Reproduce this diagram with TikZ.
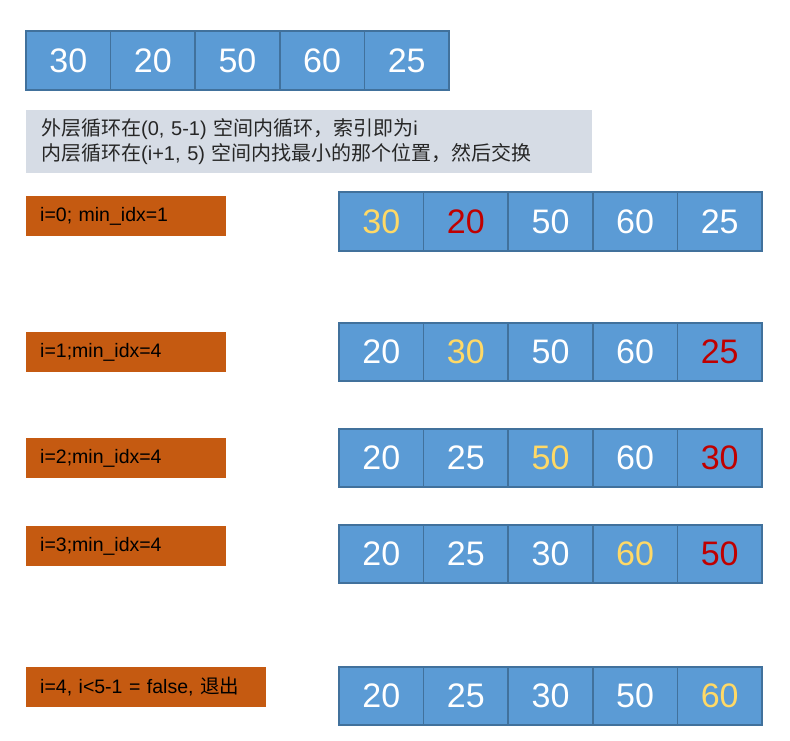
\documentclass[tikz,border=0pt]{standalone}
\usepackage{fontspec}
\setmainfont{Liberation Sans}
\newfontfamily\cjk{Noto Sans CJK SC}
\definecolor{cellfill}{HTML}{5B9BD5}
\definecolor{cellborder}{HTML}{41719C}
\definecolor{hiyel}{HTML}{FFD966}
\definecolor{hired}{HTML}{C00000}
\definecolor{labfill}{HTML}{C55A11}
\definecolor{notefill}{HTML}{D6DCE5}
\tikzset{
  cell/.style={draw=cellborder, fill=cellfill, line width=1.6pt, minimum width=84.6pt, minimum height=58.5pt, inner sep=0pt, text=white, font=\fontsize{34}{34}\selectfont},
  lab/.style={fill=labfill, minimum height=40pt, inner xsep=14pt, inner ysep=0pt, align=left, font=\fontsize{19.5}{22}\selectfont, text=black},
  note/.style={fill=notefill, minimum width=566pt, minimum height=63pt, inner xsep=15pt, align=left, text width=536pt, font=\fontsize{20}{25}\selectfont, text=black!85}
}
\begin{document}
\begin{tikzpicture}[x=1pt,y=-1pt]
\useasboundingbox (0,0) rectangle (790,740);
% top array
\foreach \v [count=\i] in {30,20,50,60,25}
  \node[cell] (t\i) at (26+84.6*\i-42.3, 60.5) {\raisebox{-1.2pt}{\v}};
% note
\node[note, anchor=north west] (note) at (26,110) {{\cjk 外层循环在}(0, 5-1) {\cjk 空间内循环，索引即为}i\\{\cjk 内层循环在}(i+1, 5) {\cjk 空间内找最小的那个位置，然后交换}};
% rows
\foreach \r/\y/\vals in {1/221.5/{30/hiyel,20/hired,50/white,60/white,25/white},
                        2/352/{20/white,30/hiyel,50/white,60/white,25/hired},
                        3/458/{20/white,25/white,50/hiyel,60/white,30/hired},
                        4/554/{20/white,25/white,30/white,60/hiyel,50/hired},
                        5/696/{20/white,25/white,30/white,50/white,60/hiyel}}{
  \foreach \v/\c [count=\i] in \vals
    \node[cell, text=\c] (r\r c\i) at (339+84.6*\i-42.3, \y) {\raisebox{-1.2pt}{\v}};
}
% labels
\node[lab, text width=172pt, anchor=west] (l1) at (26,216) {i=0; min\_idx=1};
\node[lab, text width=172pt, anchor=west] (l2) at (26,352) {i=1;min\_idx=4};
\node[lab, text width=172pt, anchor=west] (l3) at (26,458) {i=2;min\_idx=4};
\node[lab, text width=172pt, anchor=west] (l4) at (26,546) {i=3;min\_idx=4};
\node[lab, text width=212pt, anchor=west] (l5) at (26,687) {i=4, i<5-1 = false, {\cjk 退出}};
\end{tikzpicture}
\end{document}
